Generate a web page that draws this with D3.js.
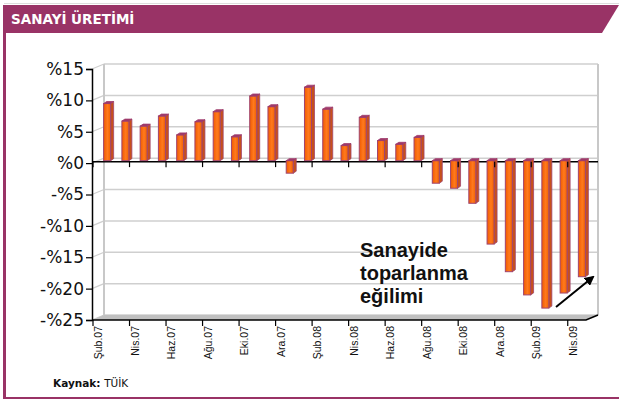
<!DOCTYPE html>
<html>
<head>
<meta charset="utf-8">
<script src="https://cdn.jsdelivr.net/npm/d3@7"></script>
<style>
  body { margin: 0; background: #fff; }
  svg { display: block; }
</style>
</head>
<body>
<script>
// monthly change of industrial production, Feb 2007 - Apr 2009
var months = ["Şub.07", "Mar.07", "Nis.07", "May.07", "Haz.07", "Tem.07", "Ağu.07", "Eyl.07", "Eki.07", "Kas.07", "Ara.07", "Oca.08",
              "Şub.08", "Mar.08", "Nis.08", "May.08", "Haz.08", "Tem.08", "Ağu.08", "Eyl.08", "Eki.08", "Kas.08", "Ara.08", "Oca.09",
              "Şub.09", "Mar.09", "Nis.09"];
var values = [9.1, 6.3, 5.5, 7.1, 4.1, 6.2, 7.8, 3.8, 10.3, 8.6, -2.0, 11.7,
              8.2, 2.4, 6.9, 3.2, 2.6, 3.7, -3.6, -4.4, -6.8, -13.3, -17.7, -21.4,
              -23.5, -21.1, -18.5];
var yTicks = [15, 10, 5, 0, -5, -10, -15, -20, -25];
var tickLabels = ["Şub.07", "Nis.07", "Haz.07", "Ağu.07", "Eki.07", "Ara.07", "Şub.08",
                  "Nis.08", "Haz.08", "Ağu.08", "Eki.08", "Ara.08", "Şub.09", "Nis.09"];
var noteLines = ["Sanayide", "toparlanma", "eğilimi"];

var w = 619, h = 401;
var purple = "#993366";
var depthX = 12, depthY = -5;   // back wall offset

var svg = d3.select("body").append("svg")
    .attr("width", w)
    .attr("height", h);

// frame
svg.append("line").attr("x1", 4).attr("x2", w).attr("y1", 3.5).attr("y2", 3.5)
    .attr("stroke", "#ddd").attr("stroke-width", 1);
svg.append("polygon")
    .attr("points", "4,5 619,5 602,33 4,33")
    .attr("fill", purple);
svg.append("rect").attr("x", 3).attr("y", 5).attr("width", 3).attr("height", 394).attr("fill", purple);
svg.append("rect").attr("x", 3).attr("y", 397).attr("width", w - 3).attr("height", 2).attr("fill", purple);

svg.append("text")
    .attr("x", 11).attr("y", 24)
    .attr("font-family", "DejaVu Sans").attr("font-weight", "bold").attr("font-size", "13.5px")
    .attr("fill", "#fff")
    .text("SANAYİ ÜRETİMİ");

var x = d3.scaleBand().domain(months).range([93, 586]).padding(0);
var y = d3.scaleLinear().domain([-25, 15]).range([320, 69]);

var x0 = 92, x1 = 586;

// back wall grid
var grid = svg.append("g");
grid.selectAll("line.h")
    .data(yTicks)
    .enter().append("line")
    .attr("x1", x0 + depthX).attr("x2", x1 + depthX)
    .attr("y1", function(d) { return y(d) + depthY; })
    .attr("y2", function(d) { return y(d) + depthY; })
    .attr("stroke", "#cfcfcf").attr("stroke-width", 1.5);
grid.selectAll("line.d")
    .data(yTicks)
    .enter().append("line")
    .attr("x1", x0).attr("x2", x0 + depthX)
    .attr("y1", function(d) { return y(d); })
    .attr("y2", function(d) { return y(d) + depthY; })
    .attr("stroke", "#cfcfcf").attr("stroke-width", 1.2);
grid.append("line")
    .attr("x1", x0 + depthX).attr("x2", x0 + depthX)
    .attr("y1", y(15) + depthY).attr("y2", y(-25) + depthY)
    .attr("stroke", "#c8c8c8").attr("stroke-width", 2);
grid.append("line")
    .attr("x1", x1 + depthX).attr("x2", x1 + depthX)
    .attr("y1", y(15) + depthY).attr("y2", y(-25) + depthY)
    .attr("stroke", "#c8c8c8").attr("stroke-width", 2);

// floor
svg.append("polygon")
    .attr("points", [[x0, y(-25)], [x1, y(-25)], [x1 + depthX, y(-25) + depthY], [x0 + depthX, y(-25) + depthY]].join(" "))
    .attr("fill", "#c0c0c0");

// gradient for bar faces
var defs = svg.append("defs");
var grad = defs.append("linearGradient").attr("id", "face").attr("x1", 0).attr("x2", 1).attr("y1", 0).attr("y2", 0);
grad.append("stop").attr("offset", "0%").attr("stop-color", "#f05a00");
grad.append("stop").attr("offset", "55%").attr("stop-color", "#ff7a1e");
grad.append("stop").attr("offset", "100%").attr("stop-color", "#f06000");
defs.append("marker").attr("id", "arrow")
    .attr("viewBox", "0 0 10 10").attr("refX", 8).attr("refY", 5)
    .attr("markerWidth", 5).attr("markerHeight", 5).attr("orient", "auto")
    .append("path").attr("d", "M0,0 L10,5 L0,10 z").attr("fill", "#000");

// zero line (drawn before bars)
svg.append("line")
    .attr("x1", x0).attr("x2", x1 + depthX)
    .attr("y1", y(0) - 1.5).attr("y2", y(0) - 1.5)
    .attr("stroke", "#000").attr("stroke-width", 1.5);

// bars at mid depth
var bw = 7, sideW = 3, sideH = 2;
var barLeft = function(d, i) { return x(months[i]) + x.bandwidth() / 2 + 1.5; };
var yb = function(v) { return y(v) - 2.5; };

var bars = svg.append("g").selectAll("g")
    .data(values)
    .enter().append("g");

bars.append("polygon")
    .attr("points", function(d, i) {
        var l = barLeft(d, i) + bw;
        var t = Math.min(yb(d), yb(0)), b = Math.max(yb(d), yb(0));
        return [[l, t], [l + sideW, t - sideH], [l + sideW, b - sideH], [l, b]].join(" ");
    })
    .attr("fill", "#c8501a").attr("stroke", "#a0456f").attr("stroke-width", 0.8);
bars.append("rect")
    .attr("x", barLeft)
    .attr("y", function(d) { return Math.min(yb(d), yb(0)); })
    .attr("width", bw)
    .attr("height", function(d) { return Math.abs(yb(d) - yb(0)); })
    .attr("fill", "url(#face)")
    .attr("stroke", "#a0456f").attr("stroke-width", 1);
bars.append("polygon")
    .attr("points", function(d, i) {
        var l = barLeft(d, i);
        var t = Math.min(yb(d), yb(0));
        return [[l, t], [l + bw, t], [l + bw + sideW, t - sideH], [l + sideW, t - sideH]].join(" ");
    })
    .attr("fill", "#9e3a6b").attr("stroke", "#9e3a6b").attr("stroke-width", 0.8);

// zero line ticks
var tickMonths = months.filter(function(d, i) { return i % 2 === 0; });
svg.append("g").selectAll("line")
    .data(tickMonths)
    .enter().append("line")
    .attr("x1", function(d) { return x(d); }).attr("x2", function(d) { return x(d); })
    .attr("y1", y(0) - 1.5).attr("y2", y(0) + 4)
    .attr("stroke", "#000").attr("stroke-width", 1.2);

// y axis
var yAxis = svg.append("g")
    .attr("transform", "translate(" + x0 + ",0)")
    .call(d3.axisLeft(y).tickValues(yTicks).tickSize(6).tickPadding(2)
        .tickFormat(function(d) { return d < 0 ? "-%" + Math.abs(d) : "%" + d; }));
yAxis.select(".domain").attr("stroke", "#000").attr("stroke-width", 1.5);
yAxis.selectAll(".tick line").attr("stroke", "#000").attr("stroke-width", 1.2);
yAxis.selectAll(".tick text")
    .attr("font-family", "DejaVu Sans").attr("font-size", "17px").attr("fill", "#111");

// bottom axis with 3D edge
svg.append("polyline")
    .attr("points", [[x0, y(-25)], [x1, y(-25)], [x1 + depthX, y(-25) + depthY]].join(" "))
    .attr("fill", "none").attr("stroke", "#000").attr("stroke-width", 1.5);
svg.append("g").selectAll("line")
    .data(tickMonths)
    .enter().append("line")
    .attr("x1", function(d) { return x(d); }).attr("x2", function(d) { return x(d); })
    .attr("y1", y(-25)).attr("y2", y(-25) + 6)
    .attr("stroke", "#000").attr("stroke-width", 1.2);

svg.append("g").selectAll("text")
    .data(tickLabels)
    .enter().append("text")
    .attr("transform", function(d) {
        return "translate(" + (x(d) + x.bandwidth() / 2) + "," + (y(-25) + 6) + ") rotate(-90)";
    })
    .attr("text-anchor", "end")
    .attr("font-family", "Liberation Sans").attr("font-size", "10.5px")
    .attr("fill", "#111")
    .text(function(d) { return d; });

// annotation
svg.append("g").selectAll("text")
    .data(noteLines)
    .enter().append("text")
    .attr("x", 360)
    .attr("y", function(d, i) { return 257 + i * 23; })
    .attr("font-family", "Liberation Sans").attr("font-weight", "bold").attr("font-size", "20px")
    .attr("fill", "#111")
    .text(function(d) { return d; });
svg.append("line")
    .attr("x1", 556).attr("y1", 307).attr("x2", 593).attr("y2", 277)
    .attr("stroke", "#000").attr("stroke-width", 2)
    .attr("marker-end", "url(#arrow)");

// source
var src = svg.append("text")
    .attr("x", 53).attr("y", 387)
    .attr("font-family", "DejaVu Sans").attr("font-size", "10.5px").attr("fill", "#111");
src.append("tspan").attr("font-weight", "bold").text("Kaynak: ");
src.append("tspan").text("TÜİK");
</script>
</body>
</html>
